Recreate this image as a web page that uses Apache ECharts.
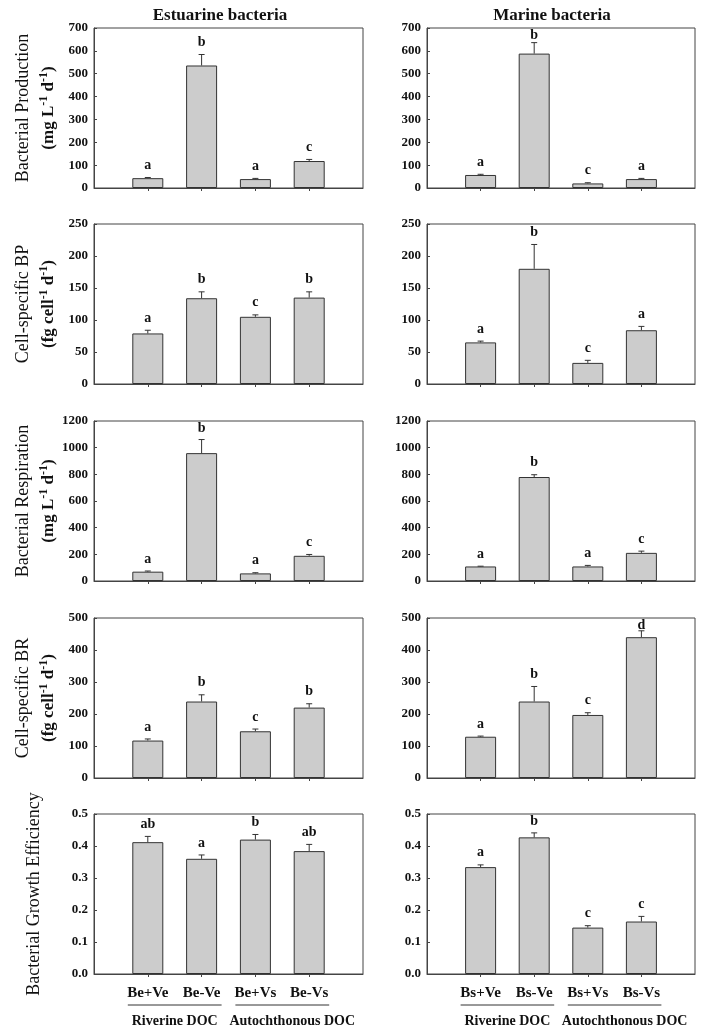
<!DOCTYPE html>
<html>
<head>
<meta charset="utf-8">
<script src="https://cdn.jsdelivr.net/npm/echarts@6/dist/echarts.min.js"></script>
<style>
  html, body { margin: 0; padding: 0; background: #fff; }
  #chart { width: 701px; height: 1030px; }
</style>
</head>
<body>
<div id="chart"></div>
<script>
  // categories
  const estCats = ['Be+Ve', 'Be-Ve', 'Be+Vs', 'Be-Vs']
  const marCats = ['Bs+Ve', 'Bs-Ve', 'Bs+Vs', 'Bs-Vs']
  const groupNames = ['Riverine DOC', 'Autochthonous DOC']
  const groupSpans = [[1, 2], [3, 4]]

  // bacterial production
  const bpEst = [43, 536, 39, 118]
  const bpEstSd = [3, 48, 3, 7]
  const bpEstSig = ['a', 'b', 'a', 'c']
  const bpMar = [57, 588, 20, 39]
  const bpMarSd = [3, 48, 3, 3]
  const bpMarSig = ['a', 'b', 'c', 'a']

  // cell-specific BP
  const csbpEst = [79, 134, 105, 135]
  const csbpEstSd = [5, 10, 3, 9]
  const csbpEstSig = ['a', 'b', 'c', 'b']
  const csbpMar = [65, 180, 33, 84]
  const csbpMarSd = [2, 38, 4, 6]
  const csbpMarSig = ['a', 'b', 'c', 'a']

  // bacterial respiration
  const brEst = [70, 959, 57, 189]
  const brEstSd = [5, 102, 5, 10]
  const brEstSig = ['a', 'b', 'a', 'c']
  const brMar = [109, 780, 109, 211]
  const brMarSd = [2, 17, 8, 13]
  const brMarSig = ['a', 'b', 'a', 'c']

  // cell-specific BR
  const csbrEst = [117, 239, 146, 220]
  const csbrEstSd = [5, 21, 7, 12]
  const csbrEstSig = ['a', 'b', 'c', 'b']
  const csbrMar = [129, 239, 197, 440]
  const csbrMarSd = [2, 47, 7, 20]
  const csbrMarSig = ['a', 'b', 'c', 'd']

  // bacterial growth efficiency
  const bgeEst = [0.412, 0.360, 0.420, 0.384]
  const bgeEstSd = [0.018, 0.012, 0.016, 0.021]
  const bgeEstSig = ['ab', 'a', 'b', 'ab']
  const bgeMar = [0.334, 0.427, 0.145, 0.164]
  const bgeMarSd = [0.007, 0.014, 0.006, 0.016]
  const bgeMarSig = ['a', 'b', 'c', 'c']

  // y axis ranges
  const yMax = [700, 250, 1200, 500, 0.5]
  const yStep = [100, 50, 200, 100, 0.1]

  const yNames = [
    '{t|Bacterial Production}\n{u|(mg L}{s|-1}{u| d}{s|-1}{u|)}',
    '{t|Cell-specific BP}\n{u|(fg cell}{s|-1}{u| d}{s|-1}{u|)}',
    '{t|Bacterial Respiration}\n{u|(mg L}{s|-1}{u| d}{s|-1}{u|)}',
    '{t|Cell-specific BR}\n{u|(fg cell}{s|-1}{u| d}{s|-1}{u|)}',
    '{t|Bacterial Growth Efficiency}'
  ]

  const rows = [
    [[bpEst, bpEstSd, bpEstSig], [bpMar, bpMarSd, bpMarSig]],
    [[csbpEst, csbpEstSd, csbpEstSig], [csbpMar, csbpMarSd, csbpMarSig]],
    [[brEst, brEstSd, brEstSig], [brMar, brMarSd, brMarSig]],
    [[csbrEst, csbrEstSd, csbrEstSig], [csbrMar, csbrMarSd, csbrMarSig]],
    [[bgeEst, bgeEstSd, bgeEstSig], [bgeMar, bgeMarSd, bgeMarSig]]
  ]

  const FONT = 'Liberation Serif, Times New Roman, serif'
  const lineColor = '#444'
  const gridTops = [28, 224, 421, 618, 814]
  const gridLefts = [94, 427]
  const gridWidths = [269, 268]
  const gridH = 160

  const grid = [], xAxis = [], yAxis = [], series = []
  rows.forEach((row, r) => {
    row.forEach((panel, c) => {
      const idx = grid.length
      const [vals, sds, sig] = panel
      const cats = c === 0 ? estCats : marCats
      const bottomRow = r === rows.length - 1
      grid.push({
        left: gridLefts[c], top: gridTops[r], width: gridWidths[c], height: gridH,
        show: true, borderColor: lineColor, borderWidth: 1, backgroundColor: 'transparent'
      })
      xAxis.push({
        type: 'value', gridIndex: idx, min: 0, max: 5, interval: 1,
        axisLine: { show: true, lineStyle: { color: lineColor } },
        axisTick: { show: true, length: 3, lineStyle: { color: lineColor }, customValues: [1, 2, 3, 4] },
        axisLabel: {
          show: bottomRow, customValues: [1, 2, 3, 4], margin: 12,
          formatter: v => cats[v - 1] || '',
          fontFamily: FONT, fontWeight: 'bold', fontSize: 15, color: '#111'
        },
        splitLine: { show: false }
      })
      yAxis.push({
        type: 'value', gridIndex: idx, min: 0, max: yMax[r], interval: yStep[r],
        name: c === 0 ? yNames[r] : '',
        nameLocation: 'middle', nameRotate: 90,
        nameGap: r === rows.length - 1 ? 47 : 33,
        nameTextStyle: {
          fontFamily: FONT, color: '#111',
          rich: {
            t: { fontFamily: FONT, fontSize: 18, color: '#111', lineHeight: 25 },
            u: { fontFamily: FONT, fontSize: 17, fontWeight: 'bold', color: '#111', lineHeight: 25 },
            s: { fontFamily: FONT, fontSize: 12, fontWeight: 'bold', color: '#111', padding: [0, 0, 9, 0] }
          }
        },
        axisLine: { show: true, lineStyle: { color: lineColor } },
        axisTick: { show: true, inside: true, length: 3, lineStyle: { color: lineColor } },
        axisLabel: {
          margin: 6, fontFamily: FONT, fontWeight: 'bold', fontSize: 13, color: '#111',
          formatter: v => r === 4 ? v.toFixed(1) : String(v)
        },
        splitLine: { show: false }
      })
      series.push({
        type: 'bar', xAxisIndex: idx, yAxisIndex: idx,
        barWidth: 31,
        data: vals.map((v, i) => [i + 1, v]),
        itemStyle: { color: '#cccccc', borderColor: '#333', borderWidth: 1 },
        silent: true
      })
      series.push({
        type: 'custom', xAxisIndex: idx, yAxisIndex: idx, z: 5, clip: false, silent: true,
        data: vals.map((v, i) => [i + 1, v, sds[i]]),
        renderItem: (params, api) => {
          const x = api.value(0), v = api.value(1), e = api.value(2)
          const p0 = api.coord([x, v])
          const p1 = api.coord([x, v + e])
          const top = params.coordSys.y
          const ty = Math.max(p1[1] - 12, top + 7)
          return {
            type: 'group',
            children: [
              { type: 'line', shape: { x1: p0[0], y1: p0[1], x2: p1[0], y2: p1[1] }, style: { stroke: '#333', lineWidth: 1 } },
              { type: 'line', shape: { x1: p1[0] - 3, y1: p1[1], x2: p1[0] + 3, y2: p1[1] }, style: { stroke: '#333', lineWidth: 1 } },
              {
                type: 'text', x: p1[0], y: ty,
                style: {
                  text: sig[params.dataIndex], fontFamily: FONT, fontWeight: 'bold', fontSize: 14,
                  fill: '#111', align: 'center', verticalAlign: 'middle'
                }
              }
            ]
          }
        }
      })
    })
  })

  const myChart = echarts.init(document.getElementById('chart'))
  myChart.setOption({
    animation: false,
    backgroundColor: '#fff',
    title: [
      { text: 'Estuarine bacteria', left: 215, top: 2, textAlign: 'center',
        textStyle: { fontFamily: FONT, fontWeight: 'bold', fontSize: 17, color: '#111' } },
      { text: 'Marine bacteria', left: 547, top: 2, textAlign: 'center',
        textStyle: { fontFamily: FONT, fontWeight: 'bold', fontSize: 17, color: '#111' } }
    ],
    grid: grid,
    xAxis: xAxis,
    yAxis: yAxis,
    series: series
  })

  // group brackets under the bottom row
  const graphic = []
  const gridBottom = gridTops[4] + gridH
  ;[8, 9].forEach(ai => {
    groupSpans.forEach((span, g) => {
      const xa = myChart.convertToPixel({ xAxisIndex: ai }, span[0]) - 20
      const xb = myChart.convertToPixel({ xAxisIndex: ai }, span[1]) + 20
      graphic.push({
        type: 'line', silent: true,
        shape: { x1: xa, y1: gridBottom + 31, x2: xb, y2: gridBottom + 31 },
        style: { stroke: '#333', lineWidth: 1 }
      })
      // second group label starts near its line's left end, as in the source figure
      graphic.push({
        type: 'text', silent: true, x: g === 0 ? (xa + xb) / 2 : xa - 6, y: gridBottom + 47,
        style: {
          text: groupNames[g], fontFamily: FONT, fontWeight: 'bold', fontSize: 14,
          fill: '#111', align: g === 0 ? 'center' : 'left', verticalAlign: 'middle'
        }
      })
    })
  })
  myChart.setOption({ graphic: graphic })
</script>
</body>
</html>
